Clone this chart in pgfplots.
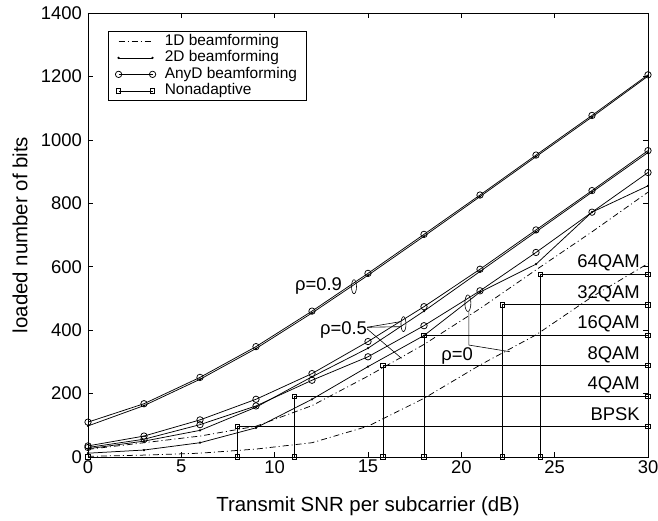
\documentclass[border=0pt]{standalone}
\usepackage{pgfplots}
\pgfplotsset{compat=1.18}
\usepackage{fontspec}
\setmainfont{Liberation Sans}
\newcommand{\fT}{\fontsize{18.5}{21}\selectfont}
\newcommand{\fX}{\fontsize{20.5}{24}\selectfont}
\newcommand{\fA}{\fontsize{18.5}{21}\selectfont}
\newcommand{\fL}{\fontsize{15.5}{17}\selectfont}
\begin{document}
\begin{tikzpicture}
\begin{axis}[name=ax, scale only axis, width=560bp, height=444bp,
  xmin=0, xmax=30, ymin=0, ymax=1400,
  xtick={0,5,...,30}, ytick={0,200,...,1400},
  tick align=inside, major tick length=5bp,
  tick style={line width=0.7bp, black},
  axis line style={line width=0.8bp},
  xticklabel style={font=\fT, anchor=north, inner sep=0pt, yshift=-3bp},
  yticklabel style={font=\fT, anchor=east, inner sep=0pt, xshift=-6bp},
  /pgf/number format/assume math mode=true,
  /pgf/number format/1000 sep={},
  xlabel={Transmit SNR per subcarrier (dB)},
  ylabel={loaded number of bits},
  xlabel style={font=\fX, at={(axis description cs:0.5,-0.1232)}, anchor=base},
  ylabel style={font=\fX, at={(axis description cs:-0.1214,0.5)}, anchor=center},
  clip=false,
  every axis plot/.append style={line width=0.75bp, black},
  legend style={at={(0.0357,0.9595)}, anchor=north west, font=\fL, draw=black, line width=0.8bp,
    fill=white, inner xsep=7bp, inner ysep=1bp, row sep=-1.5bp, cells={anchor=west},
    nodes={inner sep=2bp, text height=11bp, text depth=3bp},
    /tikz/every odd column/.append style={column sep=7bp}},
  legend image code/.code={\draw[#1] plot coordinates {(0bp,0bp) (34bp,0bp)};},
]
% 1D beamforming
\addplot[dash pattern=on 6bp off 3bp on 1bp off 3bp] coordinates {(0,24)(3,45)(6,66)(9,97)(12,162)(15,255)(18,355)(21,468)(24,590)(27,710)(30,835)};
\addlegendentry{1D beamforming}
% 2D beamforming
\addplot[mark=*, mark size=0.7bp] coordinates {(0,98)(3,162)(6,245)(9,342)(12,454)(15,573)(18,696)(21,821)(24,947)(27,1072)(30,1201)};
\addlegendentry{2D beamforming}
% AnyD
\addplot[mark=o, mark size=3.2bp, mark options={solid}] coordinates {(0,110)(3,168)(6,251)(9,348)(12,460)(15,579)(18,702)(21,826)(24,952)(27,1077)(30,1205)};
\addlegendentry{AnyD beamforming}
% Nonadaptive
\addplot[mark=square, mark size=2.2bp, mark options={solid}] coordinates {(0,0)(8,0)(8,96)(30,96)};
\addlegendentry{Nonadaptive}
\addplot[forget plot, mark=square, mark size=2.2bp] coordinates {(8,0)(11.05,0)(11.05,192)(30,192)};
\addplot[forget plot, mark=square, mark size=2.2bp] coordinates {(11.05,0)(15.8,0)(15.8,288)(30,288)};
\addplot[forget plot, mark=square, mark size=2.2bp] coordinates {(15.8,0)(18,0)(18,384)(30,384)};
\addplot[forget plot, mark=square, mark size=2.2bp] coordinates {(18,0)(22.2,0)(22.2,480)(30,480)};
\addplot[forget plot, mark=square, mark size=2.2bp] coordinates {(22.2,0)(24.25,0)(24.25,576)(30,576)};
\addplot[forget plot] coordinates {(24.25,0)(30,0)};
% rho = 0.5
\addplot[forget plot, mark=o, mark size=3.2bp] coordinates {(0,35)(3,66)(6,117)(9,182)(12,263)(15,364)(18,474)(21,592)(24,716)(27,840)(30,966)};
\addplot[forget plot, mark=*, mark size=0.7bp] coordinates {(0,26)(3,50)(6,84)(9,157)(12,253)(15,343)(18,460)(21,585)(24,710)(27,835)(30,960)};
% rho = 0
\addplot[forget plot, mark=o, mark size=3.2bp] coordinates {(0,30)(3,56)(6,102)(9,161)(12,242)(15,316)(18,414)(21,524)(24,645)(27,772)(30,897)};
\addplot[forget plot, mark=*, mark size=0.7bp] coordinates {(0,12)(3,22)(6,45)(9,92)(12,182)(15,285)(18,383)(21,520)(24,608)(27,772)(30,855)};
\addplot[forget plot, dash pattern=on 6bp off 3bp on 1bp off 3bp] coordinates {(0,2)(3,6)(6,12)(9,25)(12,45)(15,97)(18,185)(21,290)(24,385)(27,505)(30,610)};
% annotations
\draw[line width=0.6bp] (axis cs:14.25,537) ellipse [x radius=2.5bp, y radius=7bp];
\draw[line width=0.6bp] (axis cs:16.9,419) ellipse [x radius=2.5bp, y radius=7.5bp];
\draw[line width=0.6bp] (axis cs:20.35,485) ellipse [x radius=3bp, y radius=8.3bp];
\node[font=\fA, inner sep=0pt] at (axis cs:12.35,537.7) {ρ=0.9};
\node[font=\fA, inner sep=0pt] at (axis cs:13.69,402) {ρ=0.5};
\node[font=\fA, inner sep=0pt] at (axis cs:19.77,318) {ρ=0};
\draw[line width=0.6bp] (axis cs:14.95,409) -- (axis cs:16.77,427);
\draw[line width=0.6bp] (axis cs:14.95,409) -- (axis cs:16.8,411);
\draw[line width=0.6bp] (axis cs:14.95,404) -- (axis cs:16.8,311);
\draw[line width=0.6bp] (axis cs:20.4,459) -- (axis cs:20.4,353) -- (axis cs:22.6,332);
\node[font=\fA, inner sep=0pt, anchor=base east, yshift=6.5bp] at (axis cs:29.57,576) {64QAM};
\node[font=\fA, inner sep=0pt, anchor=base east, yshift=6.5bp] at (axis cs:29.57,480) {32QAM};
\node[font=\fA, inner sep=0pt, anchor=base east, yshift=6.5bp] at (axis cs:29.57,384) {16QAM};
\node[font=\fA, inner sep=0pt, anchor=base east, yshift=6.5bp] at (axis cs:29.57,288) {8QAM};
\node[font=\fA, inner sep=0pt, anchor=base east, yshift=6.5bp] at (axis cs:29.57,192) {4QAM};
\node[font=\fA, inner sep=0pt, anchor=base east, yshift=6.5bp] at (axis cs:29.57,96) {BPSK};
\end{axis}
\pgfresetboundingbox
\path[use as bounding box] ([xshift=-88bp,yshift=-64bp]ax.south west) rectangle ([xshift=10bp,yshift=13bp]ax.north east);
\end{tikzpicture}
\end{document}
